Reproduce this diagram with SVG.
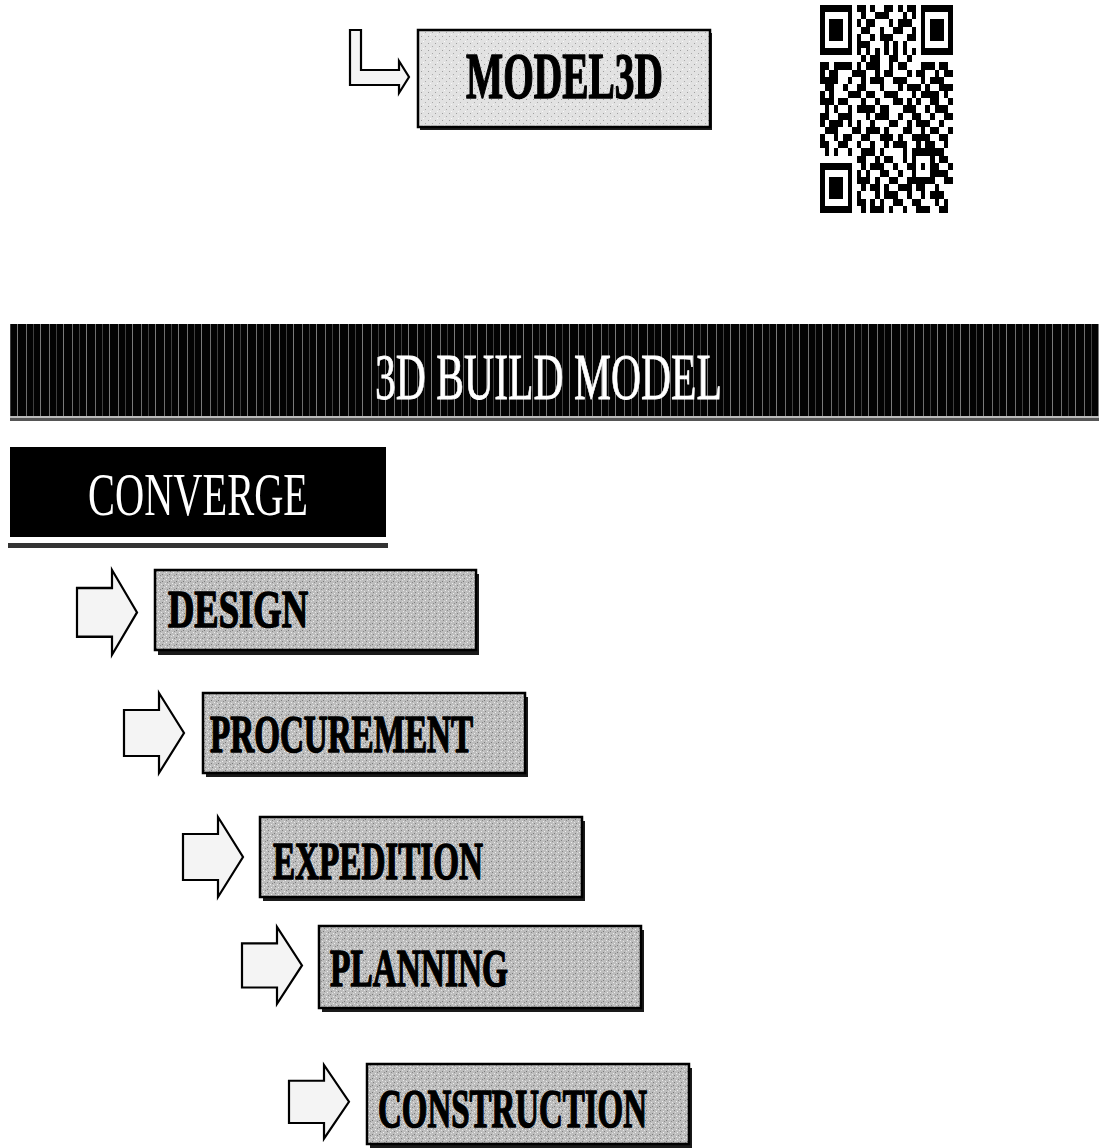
<svg xmlns="http://www.w3.org/2000/svg" width="1099" height="1148" viewBox="0 0 1099 1148">
<style>
.box{stroke:#000;stroke-width:2.5}
.shadow{fill:#1a1a1a}
.arrow{fill:#f4f4f4;stroke:#000;stroke-width:2.2;stroke-linejoin:miter}
.lbl{font-family:"Liberation Serif","Times New Roman",serif;font-weight:bold;fill:#000;stroke:#000;stroke-width:1.6;stroke-linejoin:round}
.wlbl{font-family:"Liberation Serif","Times New Roman",serif;fill:#fff}
</style>
<defs>
<pattern id="stip" width="7" height="7" patternUnits="userSpaceOnUse">
<rect width="7" height="7" fill="#bdbdbd"/>
<rect x="1" y="0" width="1" height="1" fill="#7a7a7a"/>
<rect x="4" y="2" width="1" height="1" fill="#eeeeee"/>
<rect x="2" y="4" width="1" height="1" fill="#808080"/>
<rect x="5" y="5" width="1" height="1" fill="#f0f0f0"/>
<rect x="0" y="3" width="1" height="1" fill="#e6e6e6"/>
<rect x="6" y="1" width="1" height="1" fill="#8a8a8a"/>
<rect x="3" y="6" width="1" height="1" fill="#dcdcdc"/>
</pattern>
<pattern id="stipL" width="7" height="7" patternUnits="userSpaceOnUse">
<rect width="7" height="7" fill="#e2e2e2"/>
<rect x="1" y="1" width="1" height="1" fill="#a0a0a0"/>
<rect x="5" y="4" width="1" height="1" fill="#aaaaaa"/>
<rect x="3" y="6" width="1" height="1" fill="#f8f8f8"/>
</pattern>
<pattern id="stripes" width="23" height="10" patternUnits="userSpaceOnUse">
<rect width="23" height="10" fill="#030303"/>
<rect x="3" width="1" height="10" fill="#6e6e6e"/>
<rect x="10" width="1" height="10" fill="#404040"/>
<rect x="17" width="1" height="10" fill="#7a7a7a"/>
</pattern>
<path id="blk" d="M0,17 H35 V0 L60,40 L35,80 V63 H0 Z"/>
</defs>

<g id="connectors">
<path class="arrow" d="M350,30 H361 V70 H399 V61 L409,77 L399,93 V85 H350 Z"/>
<use href="#blk" class="arrow" transform="translate(77,570) scale(1,1.06)"/>
<use href="#blk" class="arrow" transform="translate(124,693)"/>
<use href="#blk" class="arrow" transform="translate(183,817)"/>
<use href="#blk" class="arrow" transform="translate(242,927) scale(1,0.96)"/>
<use href="#blk" class="arrow" transform="translate(289,1065) scale(1,0.92)"/>
</g>

<g id="model3d">
<rect class="shadow" x="420" y="33" width="292" height="97"/>
<rect class="box" x="418" y="30" width="292" height="97" fill="url(#stipL)"/>
<text class="lbl" x="466" y="98" font-size="66" textLength="197" lengthAdjust="spacingAndGlyphs">MODEL3D</text>
</g>

<g id="qrcode" transform="translate(820,5) scale(4.586,7.172)" shape-rendering="crispEdges">
<rect width="29" height="29" fill="#fff"/>
<path fill="#000" fill-rule="evenodd" d="M0,0h7v7h-7z M1,1v5h5v-5z M2,2h3v3h-3z M22,0h7v7h-7z M23,1v5h5v-5z M24,2h3v3h-3z M0,22h7v7h-7z M1,23v5h5v-5z M2,24h3v3h-3z"/>
<path fill="#000" d="
M8,0h2v1h-2z M11,0h1v1h-1z M14,0h2v1h-2z M17,0h1v1h-1z M19,0h2v1h-2z
M9,1h1v1h-1z M12,1h3v1h-3z M18,1h1v1h-1z M20,1h1v1h-1z
M8,2h1v1h-1z M10,2h2v1h-2z M15,2h1v1h-1z M17,2h3v1h-3z
M9,3h2v1h-2z M13,3h1v1h-1z M16,3h2v1h-2z M20,3h1v1h-1z
M8,4h1v1h-1z M11,4h1v1h-1z M13,4h3v1h-3z M19,4h2v1h-2z
M8,5h3v1h-3z M14,5h1v1h-1z M16,5h1v1h-1z M18,5h1v1h-1z
M8,6h1v1h-1z M10,6h1v1h-1z M12,6h1v1h-1z M14,6h1v1h-1z M16,6h1v1h-1z M18,6h1v1h-1z M20,6h1v1h-1z
M9,7h1v1h-1z M11,7h2v1h-2z M15,7h2v1h-2z M19,7h1v1h-1z
M0,8h2v1h-2z M3,8h3v1h-3z M6,8h1v1h-1z M8,8h1v1h-1z M10,8h3v1h-3z M15,8h1v1h-1z M17,8h2v1h-2z M22,8h3v1h-3z M26,8h2v1h-2z
M0,9h1v1h-1z M2,9h2v1h-2z M7,9h3v1h-3z M12,9h1v1h-1z M14,9h2v1h-2z M19,9h1v1h-1z M21,9h2v1h-2z M25,9h1v1h-1z M27,9h2v1h-2z
M0,10h4v1h-4z M6,10h1v1h-1z M9,10h1v1h-1z M11,10h3v1h-3z M16,10h3v1h-3z M22,10h1v1h-1z M24,10h3v1h-3z
M1,11h2v1h-2z M5,11h1v1h-1z M8,11h2v1h-2z M13,11h1v1h-1z M17,11h1v1h-1z M19,11h3v1h-3z M23,11h1v1h-1z M26,11h3v1h-3z
M0,12h1v1h-1z M2,12h1v1h-1z M6,12h3v1h-3z M10,12h2v1h-2z M14,12h3v1h-3z M20,12h1v1h-1z M22,12h4v1h-4z M27,12h1v1h-1z
M0,13h3v1h-3z M4,13h2v1h-2z M9,13h1v1h-1z M12,13h1v1h-1z M16,13h2v1h-2z M19,13h1v1h-1z M21,13h1v1h-1z M24,13h2v1h-2z M28,13h1v1h-1z
M1,14h1v1h-1z M3,14h1v1h-1z M6,14h1v1h-1z M8,14h4v1h-4z M13,14h2v1h-2z M18,14h3v1h-3z M23,14h1v1h-1z M25,14h3v1h-3z
M0,15h2v1h-2z M4,15h3v1h-3z M10,15h1v1h-1z M12,15h3v1h-3z M17,15h1v1h-1z M20,15h2v1h-2z M24,15h1v1h-1z M27,15h2v1h-2z
M0,16h1v1h-1z M2,16h3v1h-3z M6,16h1v1h-1z M8,16h1v1h-1z M11,16h1v1h-1z M15,16h2v1h-2z M19,16h1v1h-1z M21,16h3v1h-3z M26,16h1v1h-1z
M1,17h3v1h-3z M7,17h2v1h-2z M10,17h3v1h-3z M14,17h1v1h-1z M18,17h2v1h-2z M22,17h1v1h-1z M24,17h2v1h-2z M28,17h1v1h-1z
M0,18h1v1h-1z M3,18h1v1h-1z M5,18h2v1h-2z M9,18h2v1h-2z M13,18h3v1h-3z M17,18h1v1h-1z M20,18h4v1h-4z M26,18h2v1h-2z
M0,19h2v1h-2z M4,19h2v1h-2z M8,19h1v1h-1z M11,19h1v1h-1z M14,19h1v1h-1z M16,19h3v1h-3z M21,19h1v1h-1z M23,19h2v1h-2z M27,19h1v1h-1z
M1,20h1v1h-1z M3,20h1v1h-1z M6,20h1v1h-1z M9,20h3v1h-3z M13,20h1v1h-1z M18,20h1v1h-1z M20,20h1v1h-1z M22,20h5v1h-5z
M8,21h2v1h-2z M12,21h1v1h-1z M14,21h2v1h-2z M18,21h1v1h-1z M20,21h1v1h-1z M24,21h1v1h-1z M26,21h2v1h-2z
M9,22h1v1h-1z M11,22h3v1h-3z M16,22h1v1h-1z M19,22h3v1h-3z M25,22h1v1h-1z M28,22h1v1h-1z
M8,23h1v1h-1z M10,23h1v1h-1z M13,23h2v1h-2z M17,23h1v1h-1z M20,23h1v1h-1z M22,23h2v1h-2z M25,23h3v1h-3z
M8,24h3v1h-3z M12,24h1v1h-1z M15,24h2v1h-2z M19,24h1v1h-1z M23,24h1v1h-1z M27,24h2v1h-2z
M9,25h1v1h-1z M11,25h2v1h-2z M14,25h1v1h-1z M17,25h3v1h-3z M21,25h2v1h-2z M25,25h1v1h-1z
M8,26h1v1h-1z M12,26h1v1h-1z M14,26h3v1h-3z M19,26h1v1h-1z M22,26h1v1h-1z M24,26h3v1h-3z
M8,27h2v1h-2z M11,27h1v1h-1z M13,27h1v1h-1z M16,27h2v1h-2z M20,27h2v1h-2z M25,27h1v1h-1z M27,27h1v1h-1z
M9,28h1v1h-1z M11,28h3v1h-3z M15,28h1v1h-1z M18,28h1v1h-1z M21,28h3v1h-3z M26,28h2v1h-2z"/>
<rect x="20" y="20" width="5" height="5" fill="#000"/>
<rect x="21" y="21" width="3" height="3" fill="#fff"/>
<rect x="22" y="22" width="1" height="1" fill="#000"/>
</g>

<g id="banner">
<rect x="10" y="324" width="1089" height="92" fill="url(#stripes)"/>
<rect x="10" y="416" width="1089" height="2" fill="#bbbbbb"/>
<rect x="10" y="418" width="1089" height="3" fill="#555555"/>
<text class="wlbl" x="375" y="399" font-size="66" textLength="347" lengthAdjust="spacingAndGlyphs" stroke="#fff" stroke-width="0.8">3D BUILD MODEL</text>
</g>

<g id="converge">
<rect x="10" y="447" width="376" height="90" fill="#000"/>
<rect x="8" y="543" width="380" height="5" fill="#333333"/>
<text class="wlbl" x="88" y="515" font-size="62" textLength="220" lengthAdjust="spacingAndGlyphs">CONVERGE</text>
</g>

<g id="design">
<rect class="shadow" x="158" y="574" width="321" height="81"/>
<rect class="box" x="155" y="570" width="321" height="80" fill="url(#stip)"/>
<text class="lbl" x="168" y="627" font-size="52" textLength="140" lengthAdjust="spacingAndGlyphs">DESIGN</text>
</g>

<g id="procurement">
<rect class="shadow" x="206" y="697" width="322" height="80"/>
<rect class="box" x="203" y="693" width="322" height="80" fill="url(#stip)"/>
<text class="lbl" x="210" y="752" font-size="52" textLength="263" lengthAdjust="spacingAndGlyphs">PROCUREMENT</text>
</g>

<g id="expedition">
<rect class="shadow" x="263" y="821" width="322" height="80"/>
<rect class="box" x="260" y="817" width="322" height="80" fill="url(#stip)"/>
<text class="lbl" x="273" y="879" font-size="52" textLength="210" lengthAdjust="spacingAndGlyphs">EXPEDITION</text>
</g>

<g id="planning">
<rect class="shadow" x="322" y="930" width="322" height="82"/>
<rect class="box" x="319" y="926" width="322" height="82" fill="url(#stip)"/>
<text class="lbl" x="330" y="986" font-size="52" textLength="178" lengthAdjust="spacingAndGlyphs">PLANNING</text>
</g>

<g id="construction">
<rect class="shadow" x="370" y="1068" width="322" height="80"/>
<rect class="box" x="367" y="1064" width="322" height="80" fill="url(#stip)"/>
<text class="lbl" x="378" y="1127" font-size="54" textLength="269" lengthAdjust="spacingAndGlyphs">CONSTRUCTION</text>
</g>
</svg>
